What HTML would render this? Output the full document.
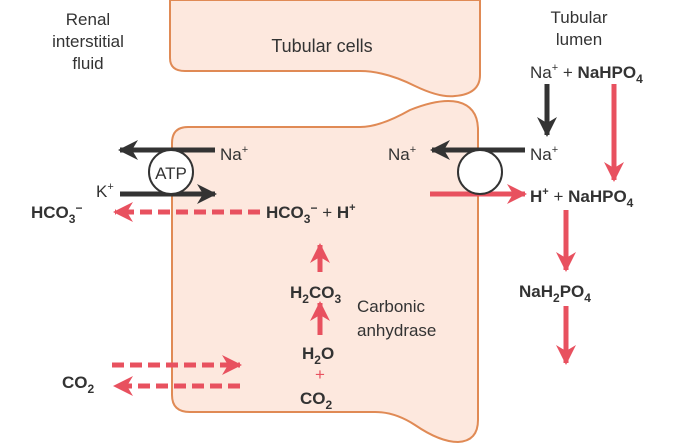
<!DOCTYPE html>
<html><head><style>body{margin:0;background:#fff}svg{display:block}</style></head><body>
<svg width="675" height="445" viewBox="0 0 675 445" xmlns="http://www.w3.org/2000/svg" font-family="Liberation Sans, sans-serif">
<defs>
<marker id="bk" viewBox="0 0 10 10" refX="9" refY="5" markerWidth="4" markerHeight="4" orient="auto"><path d="M0,0 L10,5 L0,10 L3,5z" fill="#333"/></marker>
<marker id="rd" viewBox="0 0 10 10" refX="9" refY="5" markerWidth="4" markerHeight="4" orient="auto"><path d="M0,0 L10,5 L0,10 L3,5z" fill="#e8515f"/></marker>
</defs>
<path d="M170,0 L170,58 Q170,71 185,71 L360,71 Q385,71 415,86 Q440,98 455,96 Q480,94 480,75 L480,0 Z" fill="#fde8de" stroke="#e08a55" stroke-width="2"/>
<path d="M172,143 Q172,127 188,127 L360,127 Q380,127 410,110 Q440,98 458,102 Q478,107 478,130 L478,420 Q478,441 458,442 Q440,442 415,425 Q395,412 375,412 L190,412 Q172,412 172,395 Z" fill="#fde8de" stroke="#e08a55" stroke-width="2"/>
<g fill="#333" font-size="17">
<text x="88" y="25" text-anchor="middle">Renal</text>
<text x="88" y="47" text-anchor="middle">interstitial</text>
<text x="88" y="69" text-anchor="middle">fluid</text>
<text x="322" y="52" text-anchor="middle" font-size="18">Tubular cells</text>
<text x="579" y="23" text-anchor="middle">Tubular</text>
<text x="579" y="45" text-anchor="middle">lumen</text>
<text x="530" y="78">Na<tspan font-size="11" dy="-7">+</tspan><tspan dy="7"> + </tspan><tspan font-weight="bold">NaHPO<tspan font-size="12" dy="5">4</tspan></tspan></text>
<text x="530" y="160">Na<tspan font-size="11" dy="-7">+</tspan></text>
<text x="388" y="160">Na<tspan font-size="11" dy="-7">+</tspan></text>
<text x="220" y="160">Na<tspan font-size="11" dy="-7">+</tspan></text>
<text x="96" y="197">K<tspan font-size="11" dy="-7">+</tspan></text>
<text x="357" y="312">Carbonic</text>
<text x="357" y="336">anhydrase</text>
</g>
<g fill="#333" font-size="17" font-weight="bold">
<text x="530" y="202">H<tspan font-size="11" dy="-7">+</tspan><tspan dy="7" font-weight="normal"> + </tspan>NaHPO<tspan font-size="12" dy="5">4</tspan></text>
<text x="519" y="297">NaH<tspan font-size="12" dy="5">2</tspan><tspan dy="-5">PO</tspan><tspan font-size="12" dy="5">4</tspan></text>
<text x="31" y="218">HCO<tspan font-size="12" dy="5">3</tspan><tspan dy="-11" font-size="12">−</tspan></text>
<text x="266" y="218">HCO<tspan font-size="12" dy="5">3</tspan><tspan dy="-11" font-size="12">−</tspan><tspan dy="6" font-weight="normal"> + </tspan>H<tspan font-size="11" dy="-7">+</tspan></text>
<text x="290" y="298">H<tspan font-size="12" dy="5">2</tspan><tspan dy="-5">CO</tspan><tspan font-size="12" dy="5">3</tspan></text>
<text x="302" y="359">H<tspan font-size="12" dy="5">2</tspan><tspan dy="-5">O</tspan></text>
<text x="320" y="380" fill="#e8515f" font-weight="normal" text-anchor="middle">+</text>
<text x="300" y="404">CO<tspan font-size="12" dy="5">2</tspan></text>
<text x="62" y="388">CO<tspan font-size="12" dy="5">2</tspan></text>
</g>
<g stroke="#333" stroke-width="5" fill="none">
<line x1="215" y1="150" x2="120" y2="150" marker-end="url(#bk)"/>
<line x1="120" y1="194" x2="215" y2="194" marker-end="url(#bk)"/>
<line x1="525" y1="150" x2="432" y2="150" marker-end="url(#bk)"/>
<line x1="547" y1="84" x2="547" y2="135" marker-end="url(#bk)"/>
</g>
<g stroke="#e8515f" stroke-width="5" fill="none">
<line x1="430" y1="194" x2="525" y2="194" marker-end="url(#rd)"/>
<line x1="614" y1="84" x2="614" y2="180" marker-end="url(#rd)"/>
<line x1="566" y1="210" x2="566" y2="270" marker-end="url(#rd)"/>
<line x1="566" y1="306" x2="566" y2="363" marker-end="url(#rd)"/>
<line x1="320" y1="272" x2="320" y2="245" marker-end="url(#rd)"/>
<line x1="320" y1="335" x2="320" y2="303" marker-end="url(#rd)"/>
<line x1="260" y1="212" x2="115" y2="212" stroke-dasharray="12,6" marker-end="url(#rd)"/>
<line x1="112" y1="365" x2="240" y2="365" stroke-dasharray="12,6" marker-end="url(#rd)"/>
<line x1="240" y1="386" x2="115" y2="386" stroke-dasharray="12,6" marker-end="url(#rd)"/>
</g>
<circle cx="171" cy="172" r="22" fill="#fff" stroke="#333" stroke-width="2"/>
<text x="171" y="179" text-anchor="middle" font-size="17" fill="#333">ATP</text>
<circle cx="480" cy="172" r="22" fill="#fff" stroke="#333" stroke-width="2"/>
</svg>
</body></html>
